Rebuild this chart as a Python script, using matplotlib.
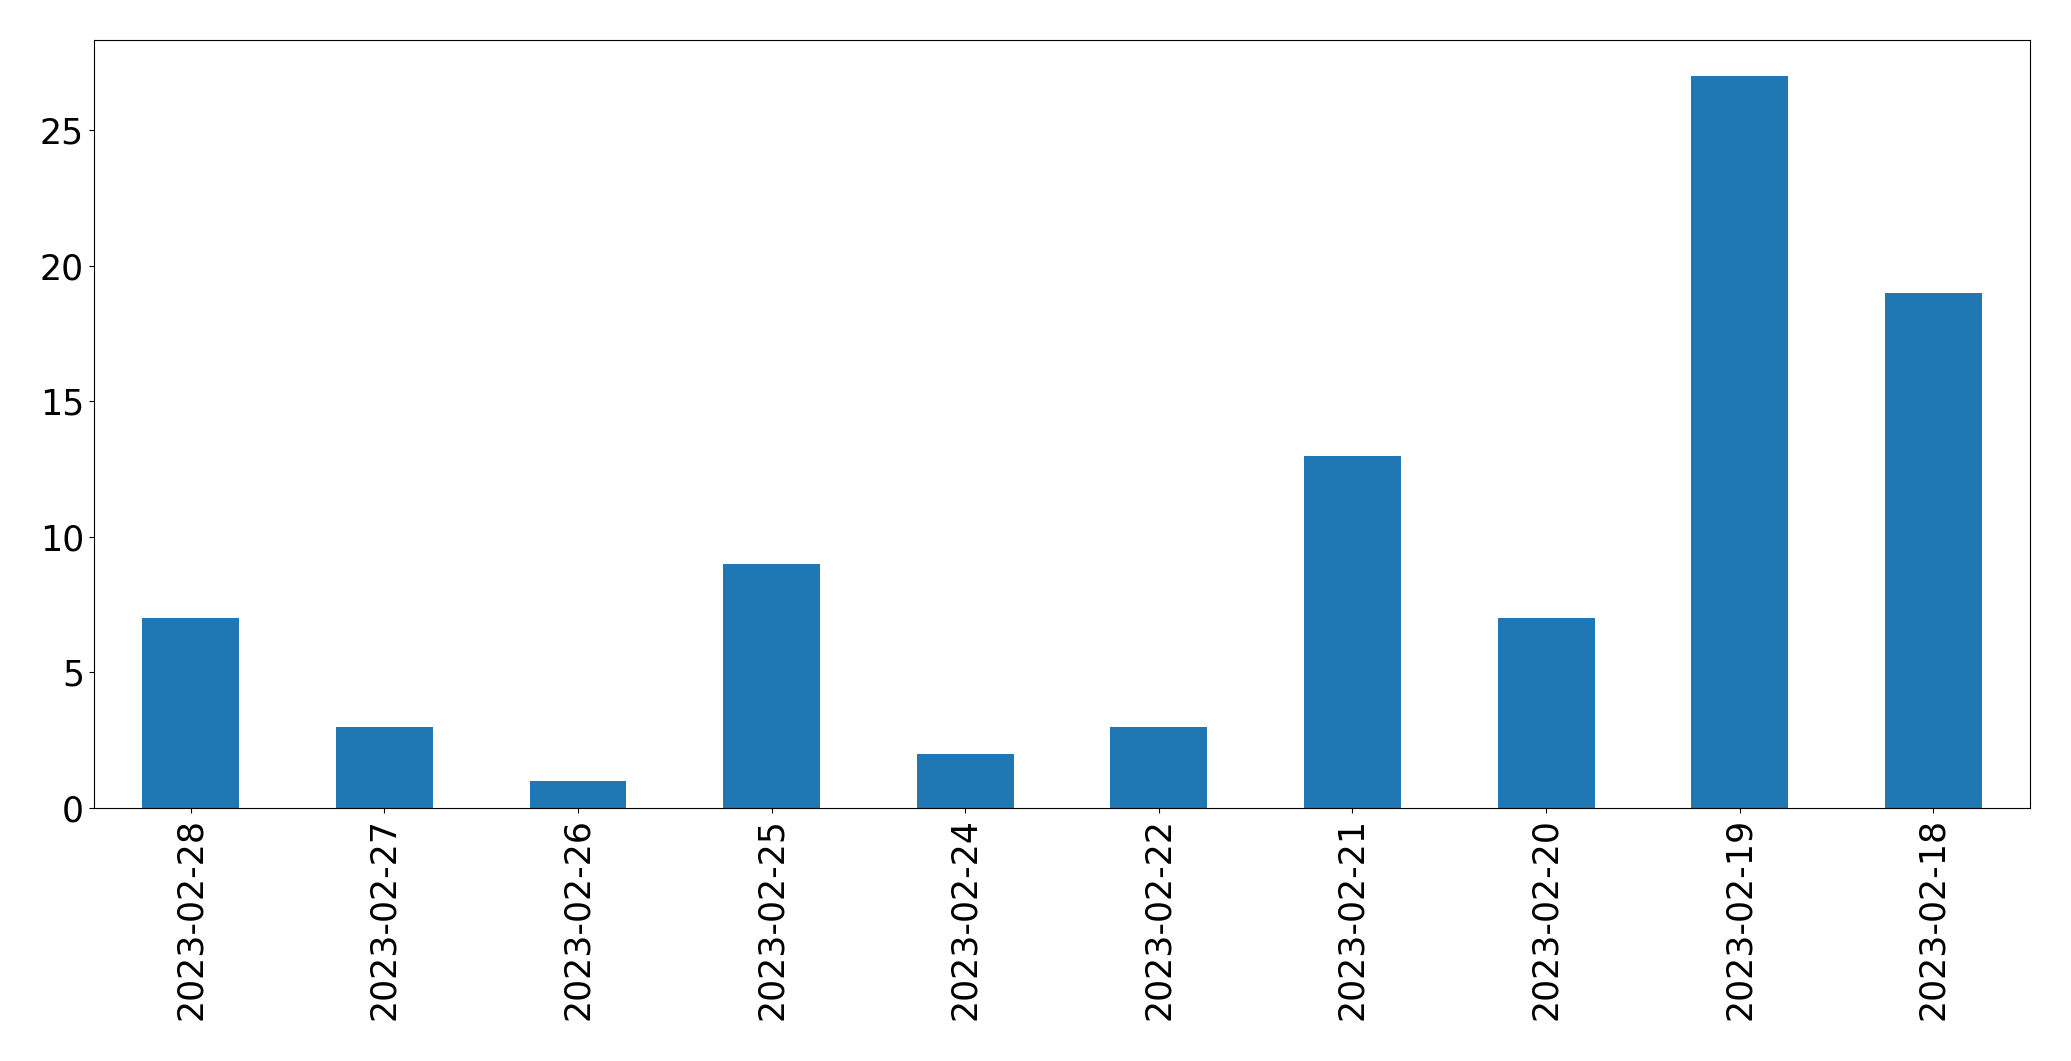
import matplotlib
matplotlib.use("Agg")
import matplotlib.pyplot as plt
import pandas as pd

dates = ["2023-02-28", "2023-02-27", "2023-02-26", "2023-02-25", "2023-02-24",
         "2023-02-22", "2023-02-21", "2023-02-20", "2023-02-19", "2023-02-18"]
counts = [7, 3, 1, 9, 2, 3, 13, 7, 27, 19]

s = pd.Series(counts, index=dates)

fig = plt.figure(figsize=(20.71, 10.61), dpi=100)
ax = fig.add_axes([0.0453, 0.2385, 0.935, 0.7242])
s.plot(kind="bar", ax=ax, color="#1f77b4")
ax.tick_params(axis="both", labelsize=25)
for lab in ax.get_xticklabels():
    lab.set_rotation(90)

fig.savefig("out.png", dpi=100)
